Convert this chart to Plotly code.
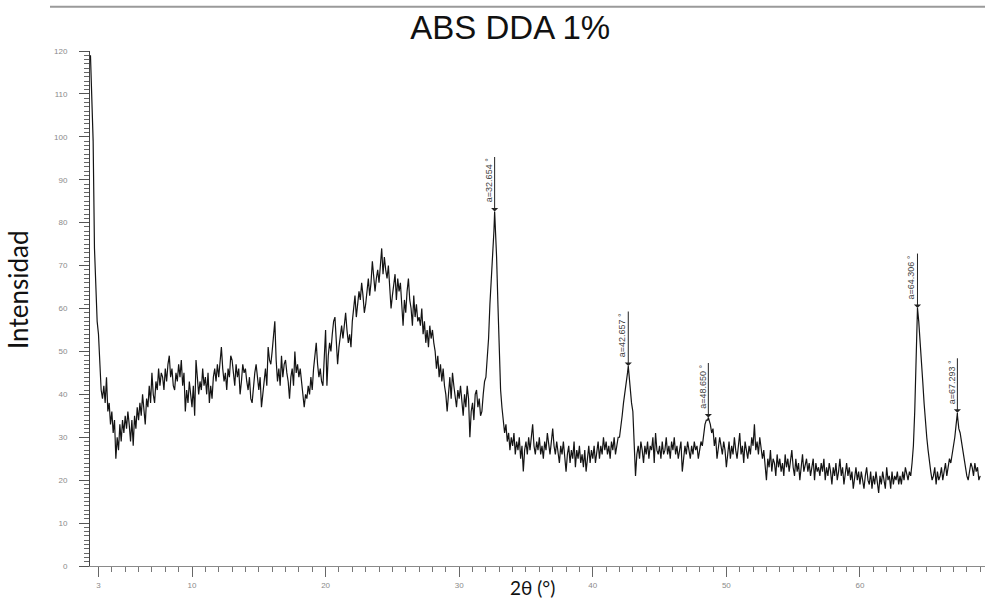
import numpy as np
import plotly.graph_objects as go

# ---------------------------------------------------------------------------
# XRD scan of ABS + DDA 1 %: intensity sampled every 0.1° in 2θ
# ---------------------------------------------------------------------------
STEP = 0.1

int_02 = [119, 108, 99, 74, 63, 57,
          54, 48, 41, 39, 42, 38, 44, 36, 38, 33,
          36, 31, 34, 25, 30, 27, 33, 29, 34, 31,
          35, 32, 36, 33, 29, 34, 28, 35, 32, 37,
          34, 38, 35, 40, 36, 33, 39, 37, 42, 38,
          45, 40, 38, 43, 41, 46, 42, 45, 44, 41,
          46, 43, 47, 49, 44, 46, 42, 41, 45, 43,
          47, 44, 48, 42, 45, 36, 41, 38, 43, 39]

int_10 = [37, 42, 35, 48, 44, 40, 43, 41, 46, 42,
          44, 40, 45, 38, 42, 39, 44, 46, 43, 47,
          44, 48, 51, 46, 43, 45, 41, 46, 44, 49,
          48, 45, 42, 47, 44, 46, 40, 43, 47, 45,
          46, 43, 41, 44, 39, 38, 42, 45, 47, 43,
          41, 44, 37, 40, 43, 46, 42, 51, 48, 47,
          50, 53, 57, 48, 43, 46, 42, 49, 44, 47,
          48, 45, 43, 39, 44, 46, 42, 50, 45, 47,
          44, 46, 43, 41, 37, 40, 39, 42, 40, 44,
          41, 46, 49, 52, 47, 44, 46, 43, 42, 48]

int_20 = [55, 42, 49, 52, 50, 54, 57, 58, 52, 47,
          51, 54, 56, 53, 57, 59, 55, 52, 54, 51,
          57, 60, 63, 58, 61, 64, 62, 66, 63, 59,
          61, 64, 67, 63, 66, 71, 68, 64, 67, 69,
          66, 70, 74, 68, 72, 69, 67, 70, 66, 60,
          63, 65, 68, 62, 67, 64, 66, 61, 56, 62,
          59, 64, 67, 62, 60, 56, 63, 58, 61, 57,
          58, 56, 60, 54, 57, 52, 55, 51, 56, 53,
          55, 52, 50, 46, 49, 44, 47, 43, 46, 42,
          40, 36, 41, 44, 39, 45, 42, 40, 37, 41]

int_30 = [39, 42, 38, 35, 40, 37, 42, 39, 30, 36,
          38, 34, 40, 41, 37, 39, 35, 36, 40, 43,
          44, 48, 53, 61, 66, 72, 78, 80, 72, 61,
          50, 41, 37, 34, 31, 33, 29, 31, 27, 30,
          28, 31, 26, 29, 27, 30, 25, 28, 22, 27,
          29, 26, 30, 27, 31, 33, 28, 26, 29, 27,
          30, 26, 28, 25, 29, 27, 31, 28, 26, 29,
          32, 28, 26, 29, 27, 24, 28, 26, 29, 25,
          22, 26, 28, 24, 27, 25, 29, 23, 27, 25,
          28, 24, 26, 23, 27, 22, 25, 28, 24, 27]

int_40 = [25, 28, 24, 27, 29, 25, 28, 26, 30, 27,
          29, 26, 28, 25, 29, 27, 30, 26, 28, 30,
          30, 32, 35, 38, 40, 43, 45, 45, 41, 38,
          36, 27, 21, 26, 28, 25, 29, 27, 24, 28,
          26, 29, 25, 28, 27, 30, 24, 31, 27, 26,
          28, 25, 29, 26, 27, 30, 26, 28, 25, 29,
          27, 30, 26, 28, 25, 27, 29, 22, 26, 28,
          26, 29, 27, 25, 28, 26, 29, 27, 28, 25,
          27, 29, 28, 31, 33, 34, 34, 34, 33, 31,
          32, 28, 30, 25, 27, 30, 28, 26, 29, 27]

int_50 = [23, 27, 29, 25, 28, 26, 30, 27, 25, 28,
          31, 26, 28, 24, 29, 27, 25, 28, 26, 30,
          28, 33, 27, 29, 26, 30, 28, 25, 27, 24,
          20, 25, 23, 27, 22, 25, 24, 21, 26, 23,
          25, 22, 24, 21, 26, 23, 25, 22, 24, 27,
          23, 21, 25, 22, 24, 20, 23, 26, 22, 24,
          25, 22, 24, 21, 23, 25, 20, 24, 22, 23,
          21, 24, 22, 25, 20, 23, 21, 24, 22, 19,
          23, 21, 24, 20, 22, 25, 21, 23, 19, 22,
          24, 21, 23, 20, 22, 18, 21, 23, 20, 22]

int_60 = [19, 22, 20, 18, 21, 23, 20, 19, 22, 18,
          21, 19, 22, 20, 17, 21, 19, 22, 20, 18,
          23, 20, 21, 18, 22, 19, 21, 20, 22, 19,
          21, 19, 22, 20, 23, 21, 20, 22, 21, 24,
          28, 36, 46, 58, 57, 53, 49, 43, 38, 33,
          30, 27, 24, 22, 20, 21, 23, 19, 22, 20,
          21, 23, 20, 22, 24, 21, 23, 25, 24, 26,
          27, 30, 33, 35, 32, 31, 29, 27, 25, 22,
          21, 20, 22, 24, 23, 21, 24, 22, 23, 20,
          21]

segments = [(2.4, int_02), (10.0, int_10), (20.0, int_20), (30.0, int_30),
            (40.0, int_40), (50.0, int_50), (60.0, int_60)]

# Indexed reflections (2θ of the apex and its intensity)
peak_pos = [32.654, 42.657, 48.650, 64.306, 67.293]
peak_int = [82.6, 46.6, 34.6, 60.1, 35.7]

x_tick_vals = [3, 10, 20, 30, 40, 50, 60]
y_tick_vals = list(range(0, 121, 10))

# ---------------------------------------------------------------------------
two_theta, intensity = [], []
for start, vals in segments:
    two_theta.extend(np.round(start + STEP * np.arange(len(vals)), 2).tolist())
    intensity.extend(vals)

x = np.array(two_theta + peak_pos, dtype=float)
y = np.array(intensity + peak_int, dtype=float)
order = np.argsort(x, kind="stable")
x, y = x[order], y[order]

fig = go.Figure()
fig.add_trace(go.Scatter(x=x, y=y, mode="lines",
                         line=dict(color="#141414", width=1.2),
                         hoverinfo="skip", showlegend=False))

# Peak markers: short vertical pointer ending in an arrowhead on the apex,
# with the 2θ value written along it
for p, h in zip(peak_pos, peak_int):
    fig.add_annotation(x=p, y=h, xref="x", yref="y", text="",
                       showarrow=True, ax=0, ay=-56, axref="pixel", ayref="pixel",
                       arrowhead=1, arrowsize=1.2, arrowwidth=1,
                       arrowcolor="#222222")
    fig.add_annotation(x=p, y=h, xref="x", yref="y",
                       text=f"a={p:.3f} °", textangle=-90, showarrow=False,
                       xshift=-6, yshift=31, xanchor="center", yanchor="middle",
                       font=dict(family="Liberation Sans", size=9, color="#444444"))

axis_font = dict(family="Liberation Sans", size=8, color="#8a8a8a")

fig.update_xaxes(range=[2.365, 69.36], showline=True, linecolor="#8a8a8a",
                 linewidth=1, ticks="outside", tickmode="array",
                 tickvals=x_tick_vals, ticktext=[str(v) for v in x_tick_vals],
                 ticklen=10, tickwidth=1, tickcolor="#666666",
                 minor=dict(ticks="outside", dtick=1, tick0=0, ticklen=5,
                            tickwidth=1, tickcolor="#777777"),
                 tickfont=axis_font, ticklabelstandoff=1,
                 showgrid=False, zeroline=False)
fig.update_yaxes(range=[0, 120], showline=True, linecolor="#444444",
                 linewidth=1, ticks="outside", tickmode="array",
                 tickvals=y_tick_vals, ticktext=[str(v) for v in y_tick_vals],
                 ticklen=10, tickwidth=1, tickcolor="#555555",
                 minor=dict(ticks="outside", dtick=1, tick0=0, ticklen=5,
                            tickwidth=1, tickcolor="#666666"),
                 tickfont=axis_font, ticklabelstandoff=10,
                 showgrid=False, zeroline=False)

# Axis titles
fig.add_annotation(text="Intensidad", xref="paper", yref="paper",
                   x=-0.0804, y=0.536, textangle=-90, showarrow=False,
                   xanchor="center", yanchor="middle",
                   font=dict(family="Lato", size=26, color="#111111"))
fig.add_annotation(text="2θ (°)", xref="paper", yref="paper",
                   x=0.494, y=-0.0427, showarrow=False,
                   xanchor="center", yanchor="middle",
                   font=dict(family="Lato", size=19, color="#111111"))

# Thin rule across the top of the figure
fig.add_shape(type="line", xref="paper", yref="paper",
              x0=-0.0447, x1=1.0, y0=1.086, y1=1.086,
              line=dict(color="#9a9a9a", width=2))

fig.update_layout(
    width=985, height=607,
    margin=dict(l=90, r=0, t=51, b=41),
    paper_bgcolor="white", plot_bgcolor="white",
    title=dict(text="ABS DDA 1%", xref="container", yref="container",
               x=0.518, y=0.955, xanchor="center", yanchor="middle",
               font=dict(family="Liberation Sans", size=33, color="#111111")),
)

fig.write_html("out.html")
